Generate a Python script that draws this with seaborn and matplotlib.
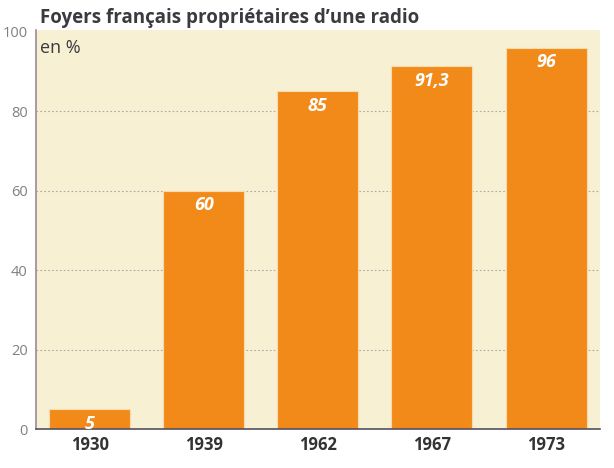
import seaborn as sns
import matplotlib.pyplot as plt
import pandas as pd

# Data
years = ['1930', '1939', '1962', '1967', '1973']
share = [5, 60, 85, 91.3, 96]
share_labels = ['5', '60', '85', '91,3', '96']
yticks = [0, 20, 40, 60, 80, 100]

df = pd.DataFrame({'Année': years, 'Part': share})

sns.set_style("white")
plt.rcParams['font.family'] = ['Open Sans', 'DejaVu Sans']

fig = plt.figure(figsize=(6.14, 4.68), dpi=100)
fig.patch.set_facecolor('white')
ax = fig.add_axes([0.0586, 0.0833, 0.918, 0.853])
ax.set_facecolor('#f8f0d2')

sns.barplot(data=df, x='Année', y='Part', color='#f28a1a', saturation=1,
            width=0.71, edgecolor='#f6dcb0', linewidth=0.8, ax=ax, zorder=3)

ax.set_xlim(-0.47, 4.47)
ax.set_ylim(0, 100.5)
ax.set_yticks(yticks)
ax.set_yticklabels([str(t) for t in yticks], fontsize=10.5, color='#808080')
ax.set_xticklabels(years, fontsize=12, fontweight='bold', color='#333333')
ax.set_xlabel('')
ax.set_ylabel('')

for t in yticks[1:-1]:
    ax.axhline(t, color='#b0a8a8', linestyle=(0, (1.5, 2)), linewidth=0.8, zorder=1)

ax.tick_params(axis='y', length=4, color='#9a8a9a', pad=2)
ax.tick_params(axis='x', length=0, pad=5)
for s in ['top', 'right']:
    ax.spines[s].set_visible(False)
ax.spines['left'].set_color('#9a8a9a')
ax.spines['left'].set_linewidth(1.2)
ax.spines['bottom'].set_color('#555060')
ax.spines['bottom'].set_linewidth(1.2)
ax.spines['left'].set_zorder(4)
ax.spines['bottom'].set_zorder(4)

for p, lab in zip(ax.patches, share_labels):
    ax.annotate(lab, (p.get_x() + p.get_width() / 2, p.get_height()),
                xytext=(0, -4), textcoords='offset points', ha='center', va='top',
                color='white', fontsize=13, fontweight='bold', style='italic', zorder=5)

fig.text(0.065, 0.962, 'Foyers français propriétaires d\u2019une radio',
         fontsize=13.5, fontweight='bold', color='#3a3a40', va='center', ha='left')
ax.text(0.008, 0.978, 'en %', transform=ax.transAxes, fontsize=13,
        color='#3a3a40', va='top', ha='left')

plt.savefig('out.png', dpi=100)
